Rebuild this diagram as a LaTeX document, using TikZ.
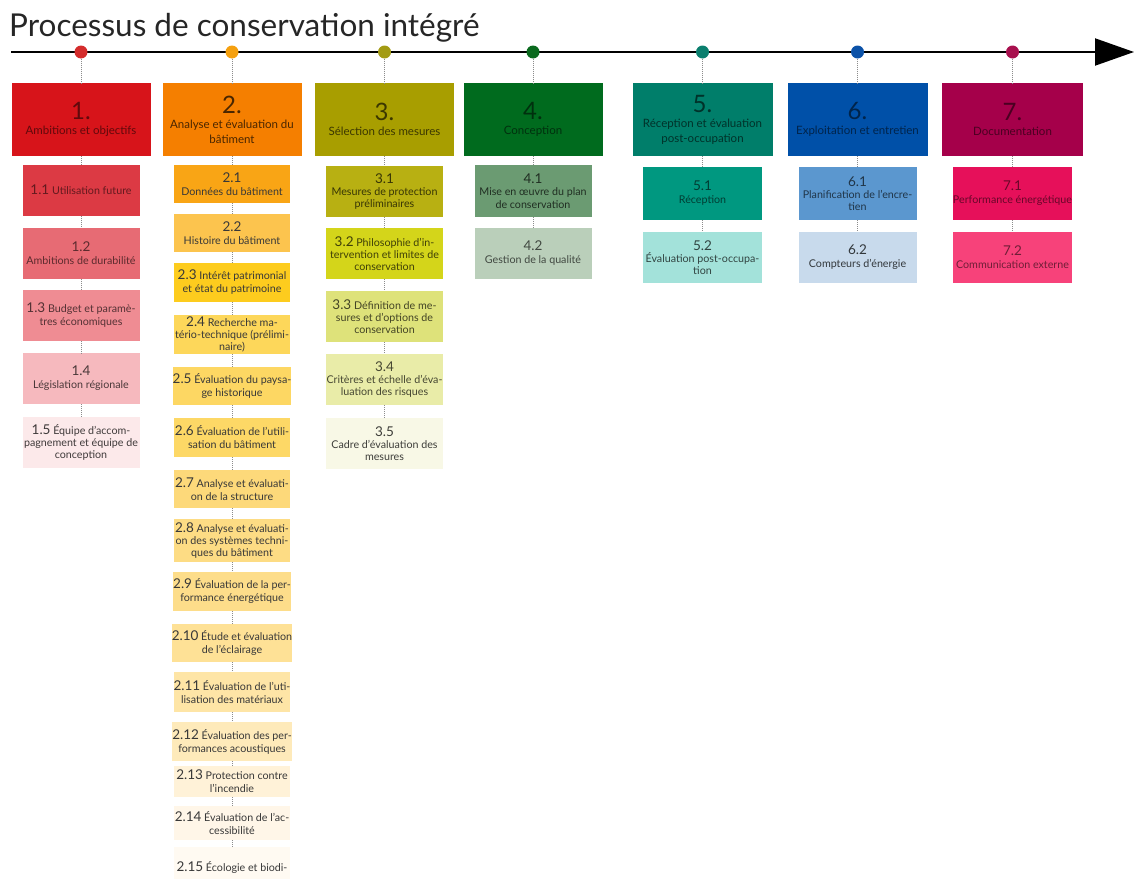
\documentclass[tikz,border=0pt]{standalone}
\usepackage{fontspec}
\setmainfont{Lato}
\usetikzlibrary{arrows.meta}

% phase colours
\definecolor{h1}{HTML}{D7141A}
\definecolor{h2}{HTML}{F57F00}
\definecolor{h3}{HTML}{A89E00}
\definecolor{h4}{HTML}{006B1E}
\definecolor{h5}{HTML}{007E6A}
\definecolor{h6}{HTML}{0050A8}
\definecolor{h7}{HTML}{A5004A}
% timeline dots
\definecolor{d1}{HTML}{D42C2C}
\definecolor{d2}{HTML}{F5A00F}
\definecolor{d3}{HTML}{A39B14}
\definecolor{d4}{HTML}{0A6A1E}
\definecolor{d5}{HTML}{0B7F6E}
\definecolor{d6}{HTML}{0C52A8}
\definecolor{d7}{HTML}{A8104E}
% step boxes
\definecolor{s11}{HTML}{DC3A44}
\definecolor{s12}{HTML}{E76B74}
\definecolor{s13}{HTML}{EF8C93}
\definecolor{s14}{HTML}{F6B9BE}
\definecolor{s15}{HTML}{FCE9EA}
\definecolor{s21}{HTML}{F9A515}
\definecolor{s22}{HTML}{FCC44E}
\definecolor{s23}{HTML}{FDCC1E}
\definecolor{s24}{HTML}{FDD75A}
\definecolor{s25}{HTML}{FDD763}
\definecolor{s26}{HTML}{FDD866}
\definecolor{s27}{HTML}{FDD97A}
\definecolor{s28}{HTML}{FDDC84}
\definecolor{s29}{HTML}{FDDD8A}
\definecolor{s210}{HTML}{FEE196}
\definecolor{s211}{HTML}{FEE5A6}
\definecolor{s212}{HTML}{FEEABA}
\definecolor{s213}{HTML}{FFF2D8}
\definecolor{s214}{HTML}{FFF6E8}
\definecolor{s215}{HTML}{FFFAF2}
\definecolor{s31}{HTML}{B8B012}
\definecolor{s32}{HTML}{D4D51A}
\definecolor{s33}{HTML}{DEE27A}
\definecolor{s34}{HTML}{E9ECA8}
\definecolor{s35}{HTML}{F8F8E6}
\definecolor{s41}{HTML}{6B9B72}
\definecolor{s42}{HTML}{BACFBA}
\definecolor{s51}{HTML}{009880}
\definecolor{s52}{HTML}{A3E2DA}
\definecolor{s61}{HTML}{5B97CF}
\definecolor{s62}{HTML}{C8DAEC}
\definecolor{s71}{HTML}{E6105A}
\definecolor{s72}{HTML}{F7427A}

\newcommand\nm[1]{{\fontsize{13.5}{14}\selectfont #1}}
\newcommand\bignum[1]{{\fontsize{24}{24}\selectfont #1}}

\tikzset{
  titletext/.style={anchor=base west, inner sep=0pt, text=black!85,
    font=\fontsize{31.5}{32}\selectfont},
  hdr/.style={rectangle, minimum width=139pt, minimum height=73pt, inner sep=0pt,
    align=center, font=\fontsize{11.5}{15}\selectfont},
  sub/.style={rectangle, minimum width=117pt, inner sep=0pt, align=center,
    font=\fontsize{10.7}{13}\selectfont, text=black!78},
  tight/.style={font=\fontsize{10.7}{12.2}\selectfont},
  dot/.style={circle, minimum size=13pt, inner sep=0pt},
  conn/.style={draw=black!45, line width=0.6pt, dash pattern=on 0.8pt off 1.2pt},
  axis/.style={line width=2pt, -{Triangle[length=39pt,width=27pt]}},
}

\begin{document}
\begin{tikzpicture}[x=1pt,y=-1pt]
\useasboundingbox (0,0) rectangle (1134,878);
\clip (0,0) rectangle (1134,878);

% title and timeline
\node[titletext] (title) at (9,36.7) {Processus de conservation intégré};
\coordinate (t0) at (11,52);
\coordinate (t1) at (1134,52);
\draw[axis] (t0) -- (t1);

% phase dots
\foreach \i/\x in {1/81,2/232,3/384.5,4/533,5/702.5,6/857.5,7/1012.5}
  \node[dot, fill=d\i] (d\i) at (\x,52) {};

% phase headers
\node[hdr, fill=h1, text=h1!45!black] (h1) at (81,119.5) {\bignum{1.}\\Ambitions et objectifs};
\node[hdr, fill=h2, text=h2!30!black] (h2) at (232,119.5) {\bignum{2.}\\Analyse et évaluation du\\bâtiment};
\node[hdr, fill=h3, text=h3!35!black] (h3) at (384.5,119.5) {\bignum{3.}\\Sélection des mesures};
\node[hdr, fill=h4, text=h4!45!black] (h4) at (533,119.5) {\bignum{4.}\\Conception};
\node[hdr, fill=h5, minimum width=140pt, text=h5!40!black] (h5) at (702.5,119.5) {\bignum{5.}\\Réception et évaluation\\post-occupation};
\node[hdr, fill=h6, minimum width=140pt, text=h6!45!black] (h6) at (857.5,119.5) {\bignum{6.}\\Exploitation et entretien};
\node[hdr, fill=h7, minimum width=141pt, text=h7!45!black] (h7) at (1012.5,119.5) {\bignum{7.}\\Documentation};

% 1. Ambitions et objectifs
\node[sub, fill=s11, minimum height=51pt, text=s11!45!black] (s11) at (81,190) {\nm{1.1} Utilisation future};
\node[sub, fill=s12, minimum height=51pt, text=s12!40!black] (s12) at (81,253) {\nm{1.2}\\Ambitions de durabilité};
\node[sub, fill=s13, minimum height=51pt, text=s13!35!black] (s13) at (81,315) {\nm{1.3} Budget et paramè-\\tres économiques};
\node[sub, fill=s14, minimum height=51pt, text=s14!30!black] (s14) at (81,378.5) {\nm{1.4}\\Législation régionale};
\node[sub, fill=s15, minimum height=51pt, text=s15!25!black, tight] (s15) at (81,442.5) {\nm{1.5} Équipe d'accom-\\pagnement et équipe de\\conception};

% 2. Analyse et évaluation du bâtiment
\node[sub, fill=s21, minimum height=38pt, minimum width=116pt] (s21) at (232,184) {\nm{2.1}\\Données du bâtiment};
\node[sub, fill=s22, minimum height=38pt, minimum width=116pt] (s22) at (232,233) {\nm{2.2}\\Histoire du bâtiment};
\node[sub, fill=s23, minimum height=39pt, minimum width=116pt] (s23) at (232,282.5) {\nm{2.3} Intérêt patrimonial\\et état du patrimoine};
\node[sub, fill=s24, minimum height=39pt, minimum width=116pt, tight] (s24) at (232,334.5) {\nm{2.4} Recherche ma-\\tério-technique (prélimi-\\naire)};
\node[sub, fill=s25, minimum height=38pt, minimum width=116pt] (s25) at (232,386) {\nm{2.5} Évaluation du paysa-\\ge historique};
\node[sub, fill=s26, minimum height=39pt, minimum width=116pt] (s26) at (232,437.5) {\nm{2.6} Évaluation de l'utili-\\sation du bâtiment};
\node[sub, fill=s27, minimum height=38pt, minimum width=116pt] (s27) at (232,489) {\nm{2.7} Analyse et évaluati-\\on de la structure};
\node[sub, fill=s28, minimum height=43pt, minimum width=116pt, tight] (s28) at (232,540.5) {\nm{2.8} Analyse et évaluati-\\on des systèmes techni-\\ques du bâtiment};
\node[sub, fill=s29, minimum height=39pt, minimum width=116pt] (s29) at (232,591.5) {\nm{2.9} Évaluation de la per-\\formance énergétique};
\node[sub, fill=s210, minimum height=38pt, minimum width=116pt] (s210) at (232,643) {\nm{2.10} Étude et évaluation\\de l'éclairage};
\node[sub, fill=s211, minimum height=40pt, minimum width=116pt] (s211) at (232,692) {\nm{2.11} Évaluation de l'uti-\\lisation des matériaux};
\node[sub, fill=s212, minimum height=39pt, minimum width=116pt] (s212) at (232,741.5) {\nm{2.12} Évaluation des per-\\formances acoustiques};
\node[sub, fill=s213, minimum height=31pt, minimum width=116pt] (s213) at (232,781.5) {\nm{2.13} Protection contre\\l'incendie};
\node[sub, fill=s214, minimum height=34pt, minimum width=116pt] (s214) at (232,823) {\nm{2.14} Évaluation de l'ac-\\cessibilité};
\node[sub, fill=s215, minimum height=42pt, minimum width=116pt] (s215) at (232,868) {\nm{2.15} Écologie et biodi-};

% 3. Sélection des mesures
\node[sub, fill=s31, minimum height=51pt, text=s31!30!black, tight] (s31) at (384.5,191.5) {\nm{3.1}\\Mesures de protection\\préliminaires};
\node[sub, fill=s32, minimum height=51pt, text=s32!30!black, tight] (s32) at (384.5,253.5) {\nm{3.2} Philosophie d'in-\\tervention et limites de\\conservation};
\node[sub, fill=s33, minimum height=51pt, text=s33!30!black, tight] (s33) at (384.5,316.5) {\nm{3.3} Définition de me-\\sures et d'options de\\conservation};
\node[sub, fill=s34, minimum height=51pt, text=s34!30!black, tight] (s34) at (384.5,379.5) {\nm{3.4}\\Critères et échelle d'éva-\\luation des risques};
\node[sub, fill=s35, minimum height=51pt, text=s35!25!black, tight] (s35) at (384.5,443.5) {\nm{3.5}\\Cadre d'évaluation des\\mesures};

% 4. Conception
\node[sub, fill=s41, minimum height=52pt, text=s41!30!black, tight] (s41) at (533,191) {\nm{4.1}\\Mise en œuvre du plan\\de conservation};
\node[sub, fill=s42, minimum height=51pt, text=s42!35!black] (s42) at (533,253.5) {\nm{4.2}\\Gestion de la qualité};

% 5. Réception et évaluation post-occupation
\node[sub, fill=s51, minimum height=53pt, minimum width=119pt, text=s51!40!black] (s51) at (702.5,193.5) {\nm{5.1}\\Réception};
\node[sub, fill=s52, minimum height=51pt, minimum width=119pt, text=s52!30!black, tight] (s52) at (702.5,257.5) {\nm{5.2}\\Évaluation post-occupa-\\tion};

% 6. Exploitation et entretien
\node[sub, fill=s61, minimum height=53pt, minimum width=118pt, text=s61!35!black, tight] (s61) at (857.5,193.5) {\nm{6.1}\\Planification de l'encre-\\tien};
\node[sub, fill=s62, minimum height=51pt, minimum width=118pt, text=s62!25!black] (s62) at (857.5,257.5) {\nm{6.2}\\Compteurs d'énergie};

% 7. Documentation
\node[sub, fill=s71, minimum height=53pt, minimum width=119pt, text=s71!45!black] (s71) at (1012.5,193.5) {\nm{7.1}\\Performance énergétique};
\node[sub, fill=s72, minimum height=51pt, minimum width=119pt, text=s72!45!black] (s72) at (1012.5,257.5) {\nm{7.2}\\Communication externe};

% dotted links: dot -> header -> steps
\foreach \i in {1,...,7}
  \draw[conn] (d\i.south) -- (h\i.north);
\draw[conn] (h1) -- (s11) (s11) -- (s12) (s12) -- (s13) (s13) -- (s14) (s14) -- (s15);
\draw[conn] (h2) -- (s21);
\foreach \a/\b in {1/2,2/3,3/4,4/5,5/6,6/7,7/8,8/9,9/10,10/11,11/12,12/13,13/14,14/15}
  \draw[conn] (s2\a) -- (s2\b);
\draw[conn] (h3) -- (s31) (s31) -- (s32) (s32) -- (s33) (s33) -- (s34) (s34) -- (s35);
\draw[conn] (h4) -- (s41) (s41) -- (s42);
\draw[conn] (h5) -- (s51) (s51) -- (s52);
\draw[conn] (h6) -- (s61) (s61) -- (s62);
\draw[conn] (h7) -- (s71) (s71) -- (s72);
\end{tikzpicture}
\end{document}
